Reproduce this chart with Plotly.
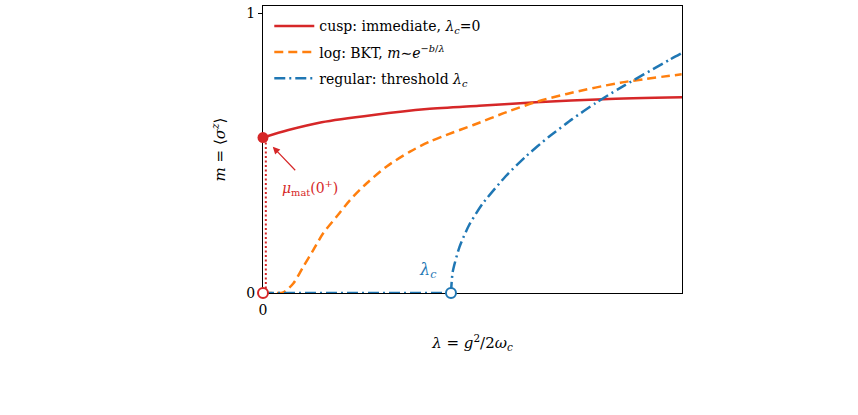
import plotly.graph_objects as go

# ---- data (lambda in units of lambda_c) ----
lam_c = 1.0
mu0 = 0.555

red_x = [0, 0.135, 0.312, 0.587, 0.872, 1.149, 1.452, 1.81, 2.229]
red_y = [0.555, 0.582, 0.610, 0.636, 0.657, 0.669, 0.681, 0.692, 0.699]

orange_x = [0, 0.06, 0.108, 0.161, 0.214, 0.268, 0.321, 0.392, 0.463, 0.552,
            0.658, 0.782, 0.888, 0.977, 1.119, 1.296, 1.456, 1.616, 1.9, 2.227]
orange_y = [0, 0, 0.002, 0.034, 0.094, 0.154, 0.214, 0.273, 0.332, 0.392,
            0.452, 0.505, 0.541, 0.565, 0.600, 0.646, 0.683, 0.711, 0.751, 0.781]

blue_flat_x = [0, 1.0]
blue_flat_y = [0, 0]
blue_x = [1.0, 1.009, 1.045, 1.096, 1.167, 1.291, 1.397, 1.521, 1.645, 1.769,
          1.894, 2.16, 2.229]
blue_y = [0, 0.075, 0.164, 0.242, 0.318, 0.417, 0.487, 0.558, 0.621, 0.678,
          0.73, 0.832, 0.857]

xtick_vals = [0]
xtick_text = ["0"]
ytick_vals = [0, 1]
ytick_text = ["0", "1"]

RED = "#d62728"
ORANGE = "#ff7f0e"
BLUE = "#1f77b4"
SERIF = "DejaVu Serif"

fig = go.Figure()

# red dotted vertical jump
fig.add_trace(go.Scatter(x=[0.015, 0.015], y=[0, mu0], mode="lines",
                         line=dict(color=RED, width=2, dash="2px,2.5px"),
                         showlegend=False, cliponaxis=False, hoverinfo="skip"))

fig.add_trace(go.Scatter(x=red_x, y=red_y, mode="lines",
                         line=dict(color=RED, width=2.5, shape="spline", smoothing=0.8),
                         name="cusp: immediate, <i>λ<sub>c</sub></i>=0",
                         legendgroup="a", cliponaxis=False))
fig.add_trace(go.Scatter(x=orange_x, y=orange_y, mode="lines",
                         line=dict(color=ORANGE, width=2.5, dash="9px,5px",
                                   shape="spline", smoothing=0.8),
                         name="log: BKT, <i>m</i>∼<i>e</i><sup>−<i>b</i>/<i>λ</i></sup>",
                         legendgroup="b", cliponaxis=False))
fig.add_trace(go.Scatter(x=blue_flat_x, y=blue_flat_y, mode="lines",
                         line=dict(color=BLUE, width=2.5, dash="11px,4px,2px,4px"),
                         showlegend=False, legendgroup="c", cliponaxis=False))
fig.add_trace(go.Scatter(x=blue_x, y=blue_y, mode="lines",
                         line=dict(color=BLUE, width=2.5, dash="11px,4px,2px,4px",
                                   shape="spline", smoothing=0.6),
                         name="regular: threshold <i>λ<sub>c</sub></i>",
                         legendgroup="c", cliponaxis=False))

# markers
fig.add_trace(go.Scatter(x=[0], y=[mu0], mode="markers",
                         marker=dict(color=RED, size=11, line=dict(width=0)),
                         showlegend=False, cliponaxis=False))
fig.add_trace(go.Scatter(x=[0], y=[0], mode="markers",
                         marker=dict(color="white", size=10, line=dict(color=RED, width=2)),
                         showlegend=False, cliponaxis=False))
fig.add_trace(go.Scatter(x=[lam_c], y=[0], mode="markers",
                         marker=dict(color="white", size=10, line=dict(color=BLUE, width=2)),
                         showlegend=False, cliponaxis=False))

# annotations
fig.add_annotation(x=0.052, y=0.5225, ax=0.179, ay=0.433, xref="x", yref="y",
                   axref="x", ayref="y", text="", showarrow=True,
                   arrowhead=2, arrowsize=1.2, arrowwidth=1.2, arrowcolor=RED)
fig.add_annotation(x=0.25, y=0.375, xref="x", yref="y", showarrow=False,
                   text="<i>μ</i><sub>mat</sub>(0<sup>+</sup>)",
                   font=dict(family=SERIF, size=14, color=RED))
fig.add_annotation(x=0.878, y=0.08, xref="x", yref="y", showarrow=False,
                   text="<i>λ<sub>c</sub></i>",
                   font=dict(family=SERIF, size=16, color=BLUE))

fig.update_xaxes(range=[0, 2.229], tickvals=xtick_vals, ticktext=xtick_text,
                 showgrid=False, zeroline=False, showline=True, linecolor="black",
                 linewidth=1.3, mirror=True, ticks="outside", ticklen=4,
                 tickcolor="black", layer="below traces",
                 tickfont=dict(family=SERIF, size=14, color="black"),
                 title=dict(text="<i>λ</i> = <i>g</i><sup>2</sup>/2<i>ω<sub>c</sub></i>",
                            font=dict(family=SERIF, size=15, color="black"), standoff=20))
fig.update_yaxes(range=[0, 1.025], tickvals=ytick_vals, ticktext=ytick_text,
                 showgrid=False, zeroline=False, showline=True, linecolor="black",
                 linewidth=1.3, mirror=True, ticks="outside", ticklen=4,
                 tickcolor="black", layer="below traces",
                 tickfont=dict(family=SERIF, size=14, color="black"),
                 title=dict(text="<i>m</i> = ⟨<i>σ</i><sup><i>z</i></sup>⟩",
                            font=dict(family=SERIF, size=15, color="black"), standoff=16))

fig.update_layout(width=858, height=415,
                  margin=dict(l=263, r=176, t=6, b=122),
                  plot_bgcolor="white", paper_bgcolor="white",
                  showlegend=True,
                  legend=dict(x=0.015, y=0.985, xanchor="left", yanchor="top",
                              bgcolor="rgba(255,255,255,0)", borderwidth=0,
                              font=dict(family=SERIF, size=14, color="black"),
                              traceorder="grouped", tracegroupgap=5,
                              itemwidth=40))

fig.write_html("out.html")
